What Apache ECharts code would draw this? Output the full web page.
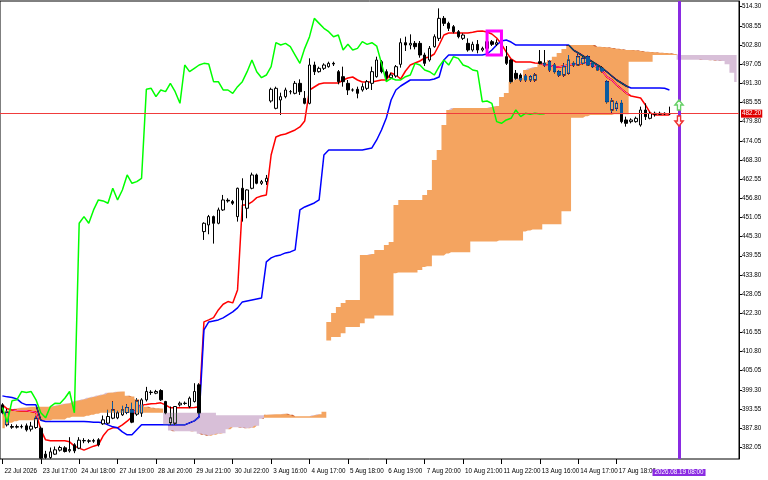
<!DOCTYPE html>
<html><head><meta charset="utf-8">
<script src="https://cdn.jsdelivr.net/npm/echarts@6.0.0/dist/echarts.min.js"></script>
<style>html,body{margin:0;padding:0;background:#fff}#c{width:768px;height:480px}</style>
</head><body><div id="c"></div>
<script>
const timeLabels = ['22 Jul 2026','23 Jul 17:00','24 Jul 18:00','27 Jul 19:00','28 Jul 20:00','29 Jul 21:00','30 Jul 22:00','3 Aug 16:00','4 Aug 17:00','5 Aug 18:00','6 Aug 19:00','7 Aug 20:00','10 Aug 21:00','11 Aug 22:00','13 Aug 16:00','14 Aug 17:00','17 Aug 18:00'];
const barsPerLabel = 8;
const totalBars = 154;
const cursorBar = 141;
const cursorLabel = '2026.08.19 08:00';
const currentPrice = 482.20;
const yTicks = [382.05,387.80,393.55,399.30,405.05,410.80,416.55,422.30,428.05,433.80,439.55,445.30,451.05,456.80,462.55,468.30,474.05,479.80,485.55,491.30,497.05,502.80,508.55,514.30];

const open = [394.8,388.8,388.3,388.1,388.3,388.5,387.5,388.0,387.8,380.0,
379.0,380.0,381.2,381.9,381.0,382.8,381.8,384.1,384.0,383.9,
384.3,389.1,389.3,390.8,390.9,391.8,392.5,393.3,392.0,392.3,
396.3,398.6,398.3,399.1,395.8,389.4,389.3,394.8,395.3,394.3,
395.8,400.8,446.8,448.8,451.3,449.3,453.3,456.2,455.8,451.3,
459.8,453.8,459.8,463.8,461.3,461.8,486.0,483.8,486.3,487.3,
488.8,488.3,491.3,486.8,485.3,496.8,494.8,495.8,496.3,497.3,
494.8,493.3,491.3,489.3,489.5,489.3,489.8,491.3,493.3,497.8,
494.8,493.0,493.5,497.0,503.5,502.8,503.3,503.3,499.8,498.3,
502.3,504.8,510.8,509.3,508.3,506.8,504.8,503.3,501.3,503.0,
501.3,501.8,503.8,503.0,503.5,499.3,498.3,494.3,493.8,493.5,
492.3,492.3,497.8,497.3,497.8,496.8,494.8,493.8,494.3,497.3,
496.8,497.3,499.3,497.3,496.3,495.8,491.8,483.3,483.8,485.3,
480.3,479.8,479.8,478.8,483.3,480.8,482.3,482.0,482.3,482.1];
const high = [395.3,393.6,389.0,388.9,388.9,389.2,389.7,391.5,388.3,381.0,
382.0,382.3,382.5,382.4,385.1,383.3,385.1,384.8,384.5,384.6,
384.8,391.6,393.3,395.8,393.0,394.5,395.0,395.4,396.8,396.8,
400.2,399.2,399.3,399.5,396.0,394.3,394.3,395.8,395.8,397.3,
401.3,401.3,449.6,451.8,451.6,454.0,457.8,456.8,456.3,460.0,
462.8,459.5,464.5,464.2,462.3,463.8,490.0,490.3,488.5,490.0,
489.3,492.0,492.5,489.0,498.8,497.8,496.3,497.3,497.8,497.8,
495.3,496.3,492.3,489.8,490.3,491.3,492.3,496.3,499.3,498.3,
495.5,494.5,496.8,504.8,505.3,506.0,504.0,504.0,500.5,502.5,
506.0,513.8,511.5,509.8,508.8,507.3,506.3,504.8,503.8,504.3,
502.3,504.3,504.3,504.5,504.0,502.5,498.5,495.3,494.3,494.0,
493.8,494.3,501.3,501.3,498.3,497.3,495.3,497.3,499.8,497.8,
500.0,499.3,499.8,497.8,496.8,496.3,492.3,486.8,486.0,486.3,
481.3,480.8,481.3,484.3,485.3,482.8,482.8,482.8,482.6,484.3];
const low = [392.0,388.3,387.6,387.7,387.7,386.8,386.8,387.6,378.6,378.6,
378.6,379.8,380.8,380.5,380.5,380.3,381.5,383.3,383.3,383.4,
382.3,388.8,389.0,390.5,390.5,391.5,392.0,389.3,391.5,391.2,
395.8,397.8,398.0,396.0,392.0,388.8,388.8,394.3,394.8,393.8,
395.5,392.0,444.3,446.0,443.2,449.0,453.0,455.5,454.8,449.8,
449.8,450.8,459.5,461.0,460.8,460.8,485.5,483.5,481.8,486.8,
488.0,488.0,487.8,485.0,485.0,493.8,494.5,495.3,496.0,496.5,
491.0,490.3,487.8,488.8,486.8,488.8,489.3,489.3,493.0,494.3,
492.0,492.5,493.0,496.0,501.0,501.5,501.5,499.0,496.5,497.8,
502.0,504.0,508.5,507.0,506.3,504.8,504.3,500.8,500.8,500.3,
500.8,501.3,502.5,502.5,501.5,496.8,491.3,492.3,491.8,491.8,
491.8,491.8,497.0,496.3,494.8,494.3,493.3,493.3,494.0,496.3,
496.5,497.0,496.5,496.0,495.0,494.6,485.3,482.5,483.0,479.3,
478.3,479.3,479.5,478.3,480.3,480.5,481.3,481.8,481.8,481.8];
const close = [392.4,392.6,388.1,388.3,388.2,387.3,388.4,390.8,378.8,379.0,
380.7,381.3,382.0,380.8,381.4,381.0,384.2,384.0,383.9,384.1,
382.8,390.3,391.3,393.3,392.4,393.3,394.0,389.6,396.0,396.3,
398.8,398.5,398.8,396.3,392.4,390.9,394.3,395.3,395.2,396.8,
398.8,392.4,449.3,451.3,449.3,453.3,456.3,456.0,455.3,459.8,
456.3,459.3,463.8,461.3,461.8,462.8,489.5,489.8,487.3,489.3,
488.8,491.3,488.8,485.3,496.8,494.8,495.8,496.8,497.3,497.1,
491.8,491.8,489.3,489.3,488.3,490.3,491.8,494.8,498.3,494.8,
493.0,493.8,496.3,503.5,502.8,503.3,502.3,499.8,497.3,501.8,
505.3,510.8,509.3,507.8,506.8,505.3,505.8,501.3,503.0,501.3,
501.8,503.8,503.0,503.5,502.5,497.3,491.8,492.8,492.3,492.3,
493.3,493.8,497.3,496.8,495.3,494.8,493.8,496.3,498.3,496.8,
499.3,498.8,496.8,496.3,495.3,495.0,485.8,486.0,485.3,479.8,
479.3,480.3,480.8,483.3,481.3,482.3,482.0,482.3,482.1,482.2];
const tenkan = [394.8,393.6,393.3,393.1,393.0,393.0,392.8,392.6,387.3,384.3,
384.0,384.0,384.0,384.0,383.7,382.4,381.8,381.2,381.8,382.4,
382.8,385.5,387.3,387.9,387.9,388.8,389.9,391.2,393.9,394.8,
394.9,395.1,395.2,395.4,394.8,393.9,393.9,393.9,393.9,393.9,
394.0,394.2,419.7,420.3,421.0,423.3,425.0,425.8,425.4,429.3,
454.8,454.8,455.7,457.0,457.5,457.8,469.8,475.2,475.8,476.1,
476.7,477.3,478.2,480.0,489.3,490.2,491.1,491.4,491.4,491.4,
491.4,492.3,492.9,493.2,492.3,491.7,491.7,491.7,492.0,492.3,
492.3,494.4,493.8,492.6,495.0,496.8,497.4,498.0,498.9,499.2,
500.1,502.8,505.8,506.4,506.4,506.4,506.4,506.4,506.6,506.9,
507.0,506.7,506.1,504.9,503.1,500.7,498.6,497.7,497.7,497.7,
497.7,497.4,497.3,496.8,496.7,496.3,496.2,496.5,496.8,497.0,
497.1,497.3,497.4,496.8,496.1,495.0,493.2,492.3,490.8,489.6,
488.4,487.5,487.2,486.9,484.8,482.4,481.8,481.8,481.8,481.8];
const kijun = [397.5,397.2,397.0,396.6,395.4,394.8,394.8,394.8,390.2,389.8,
389.8,389.8,389.8,389.8,389.8,389.8,389.8,389.8,389.7,389.6,
389.6,389.4,388.8,388.2,387.9,386.7,385.8,385.8,387.3,388.8,
388.8,388.8,388.8,388.8,388.8,388.8,388.8,388.8,388.8,389.4,
390.0,391.2,417.3,419.7,420.0,420.3,420.9,421.8,422.7,423.9,
425.7,426.0,426.3,426.6,426.9,437.7,438.9,439.5,439.8,440.4,
440.7,441.3,453.3,454.2,454.8,455.4,456.3,469.8,471.3,471.3,
471.3,471.3,471.3,471.3,471.3,471.3,471.6,471.9,474.3,477.3,
480.9,486.3,489.3,490.5,491.4,492.3,492.3,492.3,492.3,492.3,
492.6,493.2,498.3,499.8,499.8,499.8,499.8,499.8,499.8,499.8,
499.8,500.1,501.3,502.8,504.0,504.3,503.7,502.8,502.8,502.8,
502.8,502.8,502.8,502.8,502.8,502.8,502.8,502.8,502.8,501.3,
500.4,499.5,498.6,497.7,496.8,495.9,494.7,493.5,492.3,491.4,
490.5,489.9,489.9,489.9,489.9,489.9,489.9,489.9,489.8,489.3];
const spanA = [392.4,393.1,393.4,393.7,393.9,394.0,394.2,394.2,394.2,394.2,
394.2,394.5,394.8,395.1,395.3,395.9,396.2,396.5,396.9,397.2,
397.6,397.9,398.4,398.5,398.7,398.8,397.5,397.3,396.5,394.9,
394.2,393.9,393.8,393.7,388.8,387.1,386.9,386.9,386.9,386.9,
386.8,386.1,385.8,385.5,385.8,386.1,386.3,387.5,388.1,388.1,
387.9,387.8,387.9,388.5,390.6,391.8,391.9,392.0,392.0,392.1,
391.8,391.4,391.4,391.4,391.4,391.7,392.0,392.7,419.7,422.4,
424.2,425.4,426.3,426.3,426.3,439.8,439.8,440.1,441.3,441.3,
442.8,443.7,454.8,456.3,456.3,456.3,456.3,456.3,457.8,459.3,
468.3,471.3,478.8,483.3,483.9,483.9,483.9,483.9,483.9,483.9,
483.9,483.9,484.2,484.5,487.2,488.4,491.7,492.5,492.9,495.3,
495.8,496.2,497.0,497.6,498.3,499.3,500.4,501.6,502.8,502.8,
502.8,502.8,502.8,502.8,502.3,502.2,502.1,501.9,501.7,501.5,
501.3,501.3,501.2,501.0,500.8,500.7,500.6,500.5,500.4,500.3,
500.1,498.4,498.4,498.4,498.4,498.4,498.3,498.3,498.2,498.1,
498.0,497.0,494.5,491.7];
const spanB = [387.8,388.8,389.4,389.9,390.2,390.2,390.2,390.2,390.2,390.2,
390.2,390.4,390.4,390.4,390.9,391.2,391.2,391.2,391.5,391.8,
392.1,392.4,392.4,392.4,392.4,392.4,392.4,392.4,392.4,392.4,
392.4,392.4,392.4,392.4,392.4,392.4,392.4,392.4,392.4,392.4,
392.4,392.4,392.4,392.4,392.4,391.7,391.7,391.7,391.7,391.7,
391.7,391.7,391.7,391.7,391.7,390.9,390.9,390.9,390.9,390.9,
390.9,390.9,390.9,390.9,390.9,390.9,390.9,390.9,414.1,415.2,
415.2,416.3,418.2,418.2,418.2,419.3,420.7,420.7,421.6,421.6,
421.6,421.6,434.3,434.5,434.5,434.5,434.5,435.3,436.2,436.4,
439.6,439.6,439.6,440.2,440.6,440.6,440.6,440.6,443.8,443.8,
443.8,443.8,443.8,443.8,444.1,444.1,444.1,444.1,444.1,446.8,
447.1,447.4,447.4,449.0,449.0,449.0,449.0,452.9,452.9,481.0,
481.0,481.0,481.4,481.8,481.8,481.8,481.8,481.8,482.0,482.0,
482.0,497.8,497.8,497.8,497.8,497.8,499.8,499.8,499.8,499.8,
499.8,499.8,499.8,499.8,499.8,499.8,499.8,499.8,499.8,499.8,
499.8,499.8,499.8,499.8];

const chikouShift = 26;
const cats = Array.from({length: totalBars}, (_, i) => String(i));
const candleData = open.map((o, i) => [o, close[i], low[i], high[i]]);
const chikou = cats.map((_, i) => (i + chikouShift < close.length ? close[i + chikouShift] : null));
const cloudBase = spanA.map((a, i) => Math.min(a, spanB[i]));
const cloudBull = spanA.map((a, i) => Math.max(a - spanB[i], 0));
const cloudBear = spanA.map((a, i) => Math.max(spanB[i] - a, 0));
const FONT = "'Liberation Sans',Arial,sans-serif";
const FS = 6.3;
const isLabel = (i) => i % barsPerLabel === 0 && i / barsPerLabel < timeLabels.length;
const emptyData = cats.map(() => null);

const chart = echarts.init(document.getElementById('c'), null, {renderer: 'canvas'});
chart.setOption({
  backgroundColor: '#ffffff',
  animation: false,
  grid: {left: 0, right: 29, top: 1, bottom: 21, show: true, borderColor: '#000', borderWidth: 1, backgroundColor: 'transparent'},
  xAxis: {
    type: 'category', data: cats, boundaryGap: true,
    axisLine: {show: false},
    axisTick: {show: true, alignWithLabel: true, interval: (i) => isLabel(i), length: 5, lineStyle: {color: '#000'}},
    axisLabel: {interval: (i) => isLabel(i), formatter: (v, i) => timeLabels[i / barsPerLabel] || '', align: 'left', margin: 9, fontSize: FS, fontFamily: FONT, color: '#000', padding: [0, 0, 0, 2]},
    splitLine: {show: false}
  },
  yAxis: {
    type: 'value', position: 'right', min: 378.55, max: 516.01,
    axisLine: {show: true, lineStyle: {color: '#000'}},
    axisTick: {show: true, length: 3, customValues: yTicks, lineStyle: {color: '#000'}},
    axisLabel: {customValues: yTicks, formatter: (v) => v.toFixed(2), fontSize: FS, margin: 3, color: '#000', fontFamily: FONT},
    splitLine: {show: false}
  },
  series: [
    {type: 'candlestick', name: 'price', data: candleData, barWidth: 3, z: 2,
     itemStyle: {color: '#ffffff', color0: '#000000', borderColor: '#000000', borderColor0: '#000000', borderColorDoji: '#000000', borderWidth: 1}},
    {type: 'line', name: 'Tenkan-sen', data: tenkan, symbol: 'none', z: 2, lineStyle: {color: '#FF0000', width: 1.5}},
    {type: 'line', name: 'Kijun-sen', data: kijun, symbol: 'none', z: 2, lineStyle: {color: '#0000FF', width: 1.5}},
    {type: 'line', name: 'cloudBase', data: cloudBase, stack: 'cloud', step: 'middle', symbol: 'none', z: 3, silent: true, lineStyle: {width: 0, opacity: 0}},
    {type: 'line', name: 'Kumo up', data: cloudBull, stack: 'cloud', step: 'middle', symbol: 'none', z: 3, silent: true, blendMode: 'difference',
     lineStyle: {width: 0, opacity: 0}, areaStyle: {color: '#0B5B9F', opacity: 1}},
    {type: 'line', name: 'Kumo down', data: cloudBear, stack: 'cloud', step: 'middle', symbol: 'none', z: 3, silent: true, blendMode: 'difference',
     lineStyle: {width: 0, opacity: 0}, areaStyle: {color: '#274027', opacity: 1}},
    {type: 'line', name: 'Chikou Span', data: chikou, symbol: 'none', z: 4, lineStyle: {color: '#00FF00', width: 1.5}},
    {type: 'line', name: 'price line', data: emptyData, symbol: 'none', z: 5, silent: true, color: '#FF0000',
     markLine: {silent: true, symbol: ['none', 'none'], z: 5,
       lineStyle: {color: '#F03C3C', width: 1.2, type: 'solid', opacity: 1},
       label: {show: true, position: 'end', distance: 2, formatter: currentPrice.toFixed(2), backgroundColor: '#E00000', color: '#ffffff', fontSize: FS, fontFamily: FONT, padding: [1, 1, 0, 1], lineHeight: 7},
       data: [{yAxis: currentPrice}]}},
    {type: 'line', name: 'objects', data: emptyData, symbol: 'none', z: 5, silent: true, color: '#8A2BE2',
     markLine: {silent: true, symbol: ['none', 'none'], z: 5,
       lineStyle: {color: '#8A2BE2', width: 3, type: 'solid'},
       label: {show: true, position: 'start', distance: 10, formatter: cursorLabel, backgroundColor: '#8A2BE2', color: '#ffffff', fontSize: FS, fontFamily: FONT, padding: [0, 2, 0, 2], lineHeight: 7},
       data: [{xAxis: String(cursorBar)}]},
     markArea: {silent: true, z: 5,
       itemStyle: {color: 'rgba(0,0,0,0)', borderColor: '#FF00FF', borderWidth: 3},
       data: [[{xAxis: '101', yAxis: 507.0}, {xAxis: '104', yAxis: 499.8}]]},
     markPoint: {silent: true, z: 6, label: {show: false},
       data: [
         {coord: [String(cursorBar), 484.8], symbol: 'path://M5,0L10,5L7,5L7,10L3,10L3,5L0,5Z', symbolSize: [8, 10], itemStyle: {color: '#F4FFF4', borderColor: '#66D066', borderWidth: 1.5}},
         {coord: [String(cursorBar), 480.0], symbol: 'path://M3,0L7,0L7,5L10,5L5,10L0,5L3,5Z', symbolSize: [8, 10], itemStyle: {color: '#FFF4F4', borderColor: '#F03030', borderWidth: 1.5}}
       ]}
    }
  ]
});
</script></body></html>
